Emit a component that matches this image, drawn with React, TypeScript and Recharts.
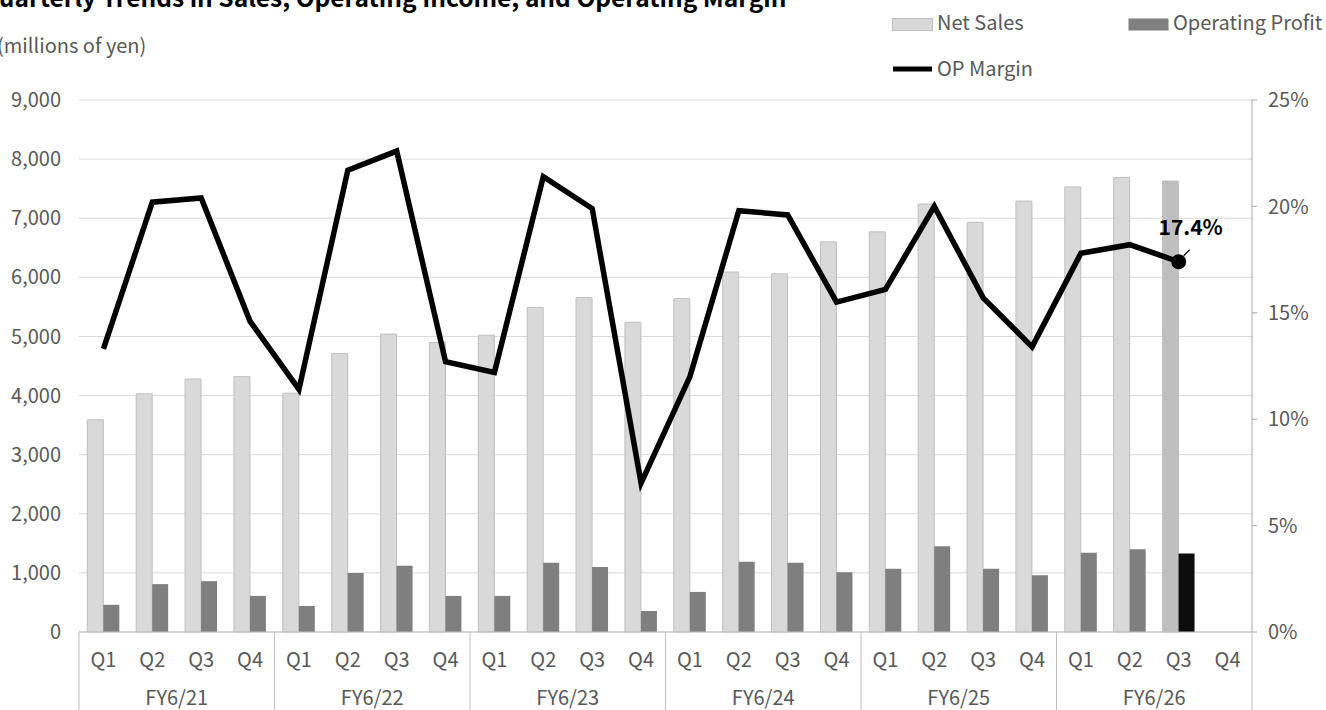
import { ComposedChart, Bar, Line, XAxis, YAxis, CartesianGrid, Cell } from "recharts";

const quarters = ["Q1", "Q2", "Q3", "Q4"];
const fiscalYears = ["FY6/21", "FY6/22", "FY6/23", "FY6/24", "FY6/25", "FY6/26"];

// millions of yen
const netSales = [
  3590, 4030, 4280, 4320,
  4040, 4710, 5040, 4900,
  5020, 5490, 5660, 5240,
  5640, 6090, 6060, 6600,
  6770, 7240, 6930, 7290,
  7530, 7690, 7630, null,
];
const operatingProfit = [
  460, 810, 860, 610,
  440, 1000, 1120, 610,
  610, 1170, 1100, 355,
  678, 1190, 1173, 1010,
  1070, 1450, 1070, 960,
  1340, 1400, 1328, null,
];
// percent
const opMargin = [
  13.3, 20.2, 20.4, 14.6,
  11.4, 21.7, 22.6, 12.7,
  12.2, 21.4, 19.9, 7.0,
  12.0, 19.8, 19.6, 15.5,
  16.1, 20.0, 15.7, 13.4,
  17.8, 18.2, 17.4, null,
];
const salesTicks = [0, 1000, 2000, 3000, 4000, 5000, 6000, 7000, 8000, 9000];
const marginTicks = [0, 5, 10, 15, 20, 25];
const highlightIndex = 22;

const data = netSales.map((v, i) => ({
  key: `${fiscalYears[Math.floor(i / 4)]}-${quarters[i % 4]}`,
  quarter: quarters[i % 4],
  fy: fiscalYears[Math.floor(i / 4)],
  netSales: v,
  operatingProfit: operatingProfit[i],
  opMargin: opMargin[i],
}));

const FONT = "'Noto Sans CJK JP', 'Noto Sans', sans-serif";
const TEXT = "#595959";

function CategoryTick(props: any) {
  const { x, y, payload, index, width } = props;
  const bw = (width || 1173) / data.length;
  const i = payload.index ?? index;
  const row = data[i];
  return (
    <g>
      <text x={x} y={y + 35} textAnchor="middle" fill={TEXT} fontSize={20} fontFamily={FONT}>
        {row ? row.quarter : ""}
      </text>
      {i % 4 === 0 && (
        <>
          <line x1={x - bw / 2} x2={x - bw / 2} y1={y} y2={y + 78} stroke="#bfbfbf" strokeWidth={1} />
          <text x={x + bw * 1.5} y={y + 73} textAnchor="middle" fill={TEXT} fontSize={20} fontFamily={FONT}>
            {row ? row.fy : ""}
          </text>
        </>
      )}
      {i === data.length - 1 && (
        <line x1={x + bw / 2} x2={x + bw / 2} y1={y} y2={y + 78} stroke="#bfbfbf" strokeWidth={1} />
      )}
    </g>
  );
}

function MarginDot(props: any) {
  const { cx, cy, index } = props;
  if (index !== highlightIndex || cx == null) return <g key={index} />;
  return <circle key={index} cx={cx} cy={cy} r={7.5} fill="#000" />;
}

function MarginLabel(props: any) {
  const { x, y, index, value } = props;
  if (index !== highlightIndex || x == null) return <g key={index} />;
  return (
    <g key={index}>
      <line x1={x + 5} y1={y - 6} x2={x + 11} y2={y - 12} stroke="#000" strokeWidth={1.2} />
      <text x={x + 12} y={y - 27} textAnchor="middle" fontSize={21} fontWeight={700} fill="#000" fontFamily={FONT}>
        {`${Number(value).toFixed(1)}%`}
      </text>
    </g>
  );
}

export default function App() {
  return (
    <div style={{ position: "fixed", left: 0, top: 0, width: 1326, height: 710, background: "#fff", overflow: "hidden" }}>
      <svg width={1326} height={100} style={{ position: "absolute", left: 0, top: 0 }}>
        <text x={-20} y={7} fontSize={24.5} fontWeight={700} fill="#000" fontFamily={FONT}>
          Quarterly Trends in Sales, Operating Income, and Operating Margin
        </text>
        <text x={-3} y={53} fontSize={20} fill={TEXT} fontFamily={FONT}>
          (millions of yen)
        </text>
        <rect x={892.5} y={18.5} width={40} height={12} fill="#d9d9d9" stroke="#bfbfbf" />
        <text x={937} y={30} fontSize={20} fill={TEXT} fontFamily={FONT}>Net Sales</text>
        <rect x={1128.5} y={18.5} width={40} height={12} fill="#7f7f7f" />
        <text x={1173} y={30} fontSize={20} fill={TEXT} fontFamily={FONT}>Operating Profit</text>
        <line x1={893} x2={932} y1={69} y2={69} stroke="#000" strokeWidth={5} />
        <text x={937} y={76} fontSize={20} fill={TEXT} fontFamily={FONT}>OP Margin</text>
      </svg>
      <ComposedChart
        width={1326}
        height={710}
        data={data}
        margin={{ top: 100, right: 0, bottom: 0, left: 0 }}
        barCategoryGap="17%"
        barGap={0}
        style={{ position: "absolute", left: 0, top: 0 }}
      >
        <CartesianGrid horizontal vertical={false} stroke="#d9d9d9" yAxisId="sales" />
        <XAxis
          dataKey="key"
          height={78}
          interval={0}
          tickSize={0}
          tickMargin={0}
          tickLine={false}
          axisLine={{ stroke: "#bfbfbf" }}
          tick={<CategoryTick />}
        />
        <YAxis
          yAxisId="sales"
          orientation="left"
          width={79}
          domain={[0, 9000]}
          ticks={salesTicks}
          interval={0}
          axisLine={false}
          tickLine={false}
          tickSize={0}
          tickMargin={18}
          tickFormatter={(v: number) => v.toLocaleString("en-US")}
          tick={{ fill: TEXT, fontSize: 20, fontFamily: FONT }}
        />
        <YAxis
          yAxisId="margin"
          orientation="right"
          width={74}
          domain={[0, 25]}
          ticks={marginTicks}
          interval={0}
          axisLine={{ stroke: "#a6a6a6" }}
          tickLine={{ stroke: "#a6a6a6" }}
          tickSize={5}
          tickMargin={11}
          tickFormatter={(v: number) => `${v}%`}
          tick={{ fill: TEXT, fontSize: 20, fontFamily: FONT }}
        />
        <Bar yAxisId="sales" dataKey="netSales" fill="#d9d9d9" stroke="#bfbfbf" strokeWidth={1} isAnimationActive={false}>
          {data.map((_, i) => (
            <Cell key={i} fill={i === highlightIndex ? "#bfbfbf" : "#d9d9d9"} />
          ))}
        </Bar>
        <Bar yAxisId="sales" dataKey="operatingProfit" fill="#7f7f7f" isAnimationActive={false}>
          {data.map((_, i) => (
            <Cell key={i} fill={i === highlightIndex ? "#0d0d0d" : "#7f7f7f"} />
          ))}
        </Bar>
        <Line
          yAxisId="margin"
          dataKey="opMargin"
          stroke="#000"
          strokeWidth={5.5}
          strokeLinejoin="miter"
          dot={<MarginDot />}
          activeDot={false}
          label={<MarginLabel />}
          isAnimationActive={false}
        />
      </ComposedChart>
    </div>
  );
}
